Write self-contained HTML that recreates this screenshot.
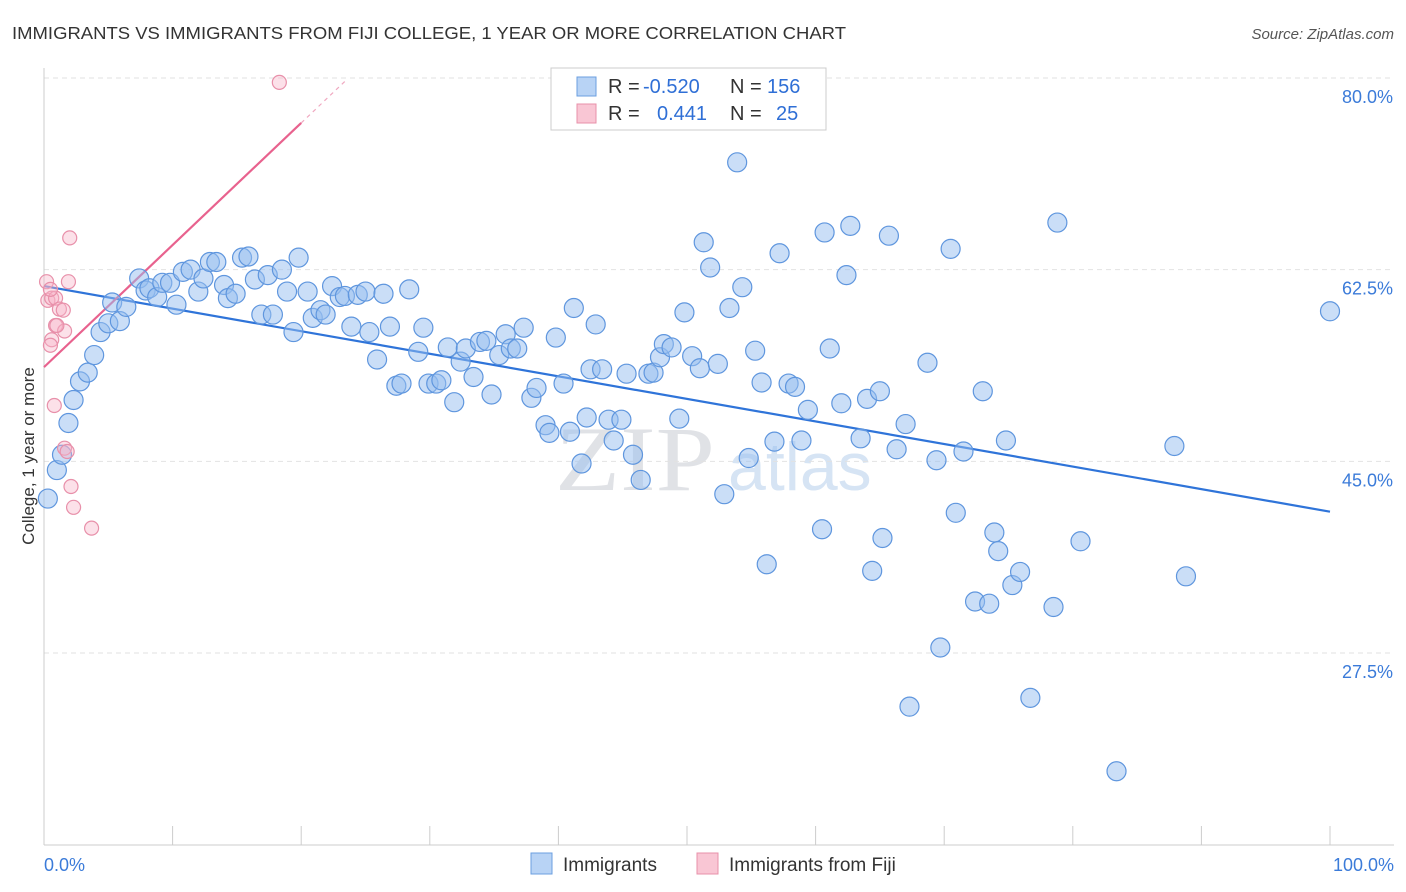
<!DOCTYPE html>
<html><head><meta charset="utf-8"><style>
body{margin:0;background:#fff;font-family:"Liberation Sans",sans-serif}
svg{display:block}
</style></head><body>
<svg id="chart" width="1406" height="892" font-family="Liberation Sans, sans-serif">
<text x="12" y="39" font-size="17.5" fill="#333" textLength="834" lengthAdjust="spacingAndGlyphs">IMMIGRANTS VS IMMIGRANTS FROM FIJI COLLEGE, 1 YEAR OR MORE CORRELATION CHART</text>
<text x="1394" y="39" font-size="15" fill="#555" font-style="italic" text-anchor="end">Source: ZipAtlas.com</text>
<text transform="translate(34,456) rotate(-90)" font-size="17" fill="#333" text-anchor="middle">College, 1 year or more</text>
<text x="555" y="490" font-size="92" fill="#e0e2e6" textLength="160" lengthAdjust="spacingAndGlyphs" font-family="Liberation Serif, serif">ZIP</text>
<text x="728" y="490" font-size="68" fill="#d6e4f4">atlas</text>
<g id="grid"></g><g id="axes"></g><g id="lines"></g><g id="pts"></g>
<g>
<rect x="551" y="68" width="275" height="62" fill="#fff" stroke="#ccc"/>
<rect x="577" y="77" width="19" height="19" fill="#b8d3f5" stroke="#6b9fe0"/>
<rect x="577" y="104" width="19" height="19" fill="#f9c6d4" stroke="#e890aa"/>
<text x="608" y="93" font-size="20" fill="#333">R = <tspan fill="#2f6fd6" x="643">-0.520</tspan><tspan x="730">N = </tspan><tspan fill="#2f6fd6" x="767">156</tspan></text>
<text x="608" y="120" font-size="20" fill="#333">R = <tspan fill="#2f6fd6" x="657">0.441</tspan><tspan x="730">N = </tspan><tspan fill="#2f6fd6" x="776">25</tspan></text>
</g>
<g>
<rect x="531" y="853" width="21" height="21" fill="#b8d3f5" stroke="#6b9fe0"/>
<text x="563" y="871" font-size="19" fill="#333">Immigrants</text>
<rect x="697" y="853" width="21" height="21" fill="#f9c6d4" stroke="#e890aa"/>
<text x="729" y="871" font-size="19" fill="#333">Immigrants from Fiji</text>
</g>
</svg>
<script>
const yTicks=[80,62.5,45,27.5];
const yTickLabels=["80.0%","62.5%","45.0%","27.5%"];
const xTickLabels=["0.0%","100.0%"];
const blueX=[0.3,1.0,1.4,1.9,2.3,2.8,3.4,3.9,4.4,5.0,5.3,5.9,6.4,7.4,7.9,8.2,8.8,9.2,9.8,10.3,10.8,11.4,12.0,12.4,12.9,13.4,14.0,14.3,14.9,15.4,15.9,16.4,16.9,17.4,17.8,18.5,18.9,19.4,19.8,20.5,20.9,21.5,21.9,22.4,23.0,23.4,23.9,24.4,25.0,25.3,25.9,26.4,26.9,27.4,27.8,28.4,29.1,29.5,29.9,30.5,30.9,31.4,31.9,32.4,32.8,33.4,33.9,34.4,34.8,35.4,35.9,36.3,36.8,37.3,37.9,38.3,39.0,39.3,39.8,40.4,40.9,41.2,41.8,42.2,42.5,42.9,43.4,43.9,44.3,44.9,45.3,45.8,46.4,47.0,47.4,47.9,48.2,48.8,49.4,49.8,50.4,51.0,51.3,51.8,52.4,52.9,53.3,53.9,54.3,54.8,55.3,55.8,56.2,56.8,57.2,57.9,58.4,58.9,59.4,60.5,60.7,61.1,62.0,62.4,62.7,63.5,64.0,64.4,65.0,65.2,65.7,66.3,67.0,67.3,69.4,69.7,70.5,70.9,71.5,72.4,73.0,73.5,73.9,74.2,74.8,75.3,75.9,76.7,78.5,78.8,80.6,83.4,87.9,88.8,100.0,68.7];
const blueY=[41.6,44.2,45.6,48.5,50.6,52.3,53.1,54.7,56.8,57.6,59.5,57.8,59.1,61.7,60.6,60.8,60.0,61.3,61.3,59.3,62.3,62.5,60.5,61.7,63.2,63.2,61.1,59.9,60.3,63.6,63.7,61.6,58.4,62.0,58.4,62.5,60.5,56.8,63.6,60.5,58.1,58.8,58.4,61.0,60.0,60.1,57.3,60.2,60.5,56.8,54.3,60.3,57.3,51.9,52.1,60.7,55.0,57.2,52.1,52.1,52.4,55.4,50.4,54.1,55.3,52.7,55.9,56.0,51.1,54.7,56.6,55.3,55.3,57.2,50.8,51.7,48.3,47.6,56.3,52.1,47.7,59.0,44.8,49.0,53.4,57.5,53.4,48.8,46.9,48.8,53.0,45.6,43.3,53.0,53.1,54.5,55.7,55.4,48.9,58.6,54.6,53.5,65.0,62.7,53.9,42.0,59.0,72.3,60.9,45.3,55.1,52.2,35.6,46.8,64.0,52.1,51.8,46.9,49.7,38.8,65.9,55.3,50.3,62.0,66.5,47.1,50.7,35.0,51.4,38.0,65.6,46.1,48.4,22.6,45.1,28.0,64.4,40.3,45.9,32.2,51.4,32.0,38.5,36.8,46.9,33.7,34.9,23.4,31.7,66.8,37.7,16.7,46.4,34.5,58.7,54.0];
const fijiX=[0.2,0.3,0.6,0.9,0.9,1.2,1.5,1.6,1.0,0.6,0.5,2.0,1.9,0.8,1.6,1.8,2.1,2.3,3.7,18.3,0.5];
const fijiY=[61.4,59.7,59.9,59.9,57.4,58.9,58.8,56.9,57.4,56.1,55.6,65.4,61.4,50.1,46.2,45.9,42.7,40.8,38.9,79.6,60.7];
const blueTrend=[61.0,40.4];
const fijiTrend=[53.6,75.9];
const X=v=>44+v*12.86, Y=v=>78+(80-v)*10.952;
const NS="http://www.w3.org/2000/svg";
function mk(p,t,a){const e=document.createElementNS(NS,t);for(const k in a)e.setAttribute(k,a[k]);p.appendChild(e);return e;}
const grid=document.getElementById('grid'),axes=document.getElementById('axes'),lines=document.getElementById('lines'),pts=document.getElementById('pts');
yTicks.forEach((t,i)=>{
 const l=mk(grid,'line',{x1:44,x2:1394,y1:Y(t),y2:Y(t),stroke:'#e2e2e2','stroke-dasharray':'5,4'});
 
 
 const tx=mk(axes,'text',{x:1393,y:Y(t)+25,'font-size':18,fill:'#3b7bd9','text-anchor':'end'});
 tx.textContent=yTickLabels[i];
 
 
});
const ya=mk(axes,'line',{x1:44,x2:44,y1:68,y2:845,stroke:'#ccc'});


const xa=mk(axes,'line',{x1:44,x2:1394,y1:845,y2:845,stroke:'#ccc'});


for(let i=0;i<=10;i++){
 const tk=mk(axes,'line',{x1:X(i*10),x2:X(i*10),y1:826,y2:845,stroke:'#ccc'});
 
 
}
[[0,'start',44],[100,'end',1394]].forEach((d,i)=>{
 const t=mk(axes,'text',{x:d[2],y:871,'font-size':18,fill:'#3b7bd9','text-anchor':d[1]});
 t.textContent=xTickLabels[i];
 
 
});
blueX.forEach((x,i)=>{
 const c=mk(pts,'circle',{cx:X(x),cy:Y(blueY[i]),r:9.5,fill:'rgba(150,190,240,0.5)',stroke:'#5f96de','stroke-width':1.2});
 
 
});
fijiX.forEach((x,i)=>{
 const c=mk(pts,'circle',{cx:X(x),cy:Y(fijiY[i]),r:7,fill:'rgba(248,180,200,0.4)',stroke:'#e890aa','stroke-width':1.2});
 
 
});
const bl=mk(lines,'line',{x1:X(0),y1:Y(blueTrend[0]),x2:X(100),y2:Y(blueTrend[1]),stroke:'#2f74d9','stroke-width':2.2});


const slope=(fijiTrend[1]-fijiTrend[0])/20;
const pl=mk(lines,'line',{x1:X(0),y1:Y(fijiTrend[0]),x2:X(20),y2:Y(fijiTrend[1]),stroke:'#e8628e','stroke-width':2.2});


const pd=mk(lines,'line',{x1:X(20),y1:Y(fijiTrend[1]),x2:X(23.4),y2:Y(fijiTrend[0]+slope*23.4),stroke:'#f0a8c0','stroke-width':1.2,'stroke-dasharray':'4,4'});


</script>
</body></html>
